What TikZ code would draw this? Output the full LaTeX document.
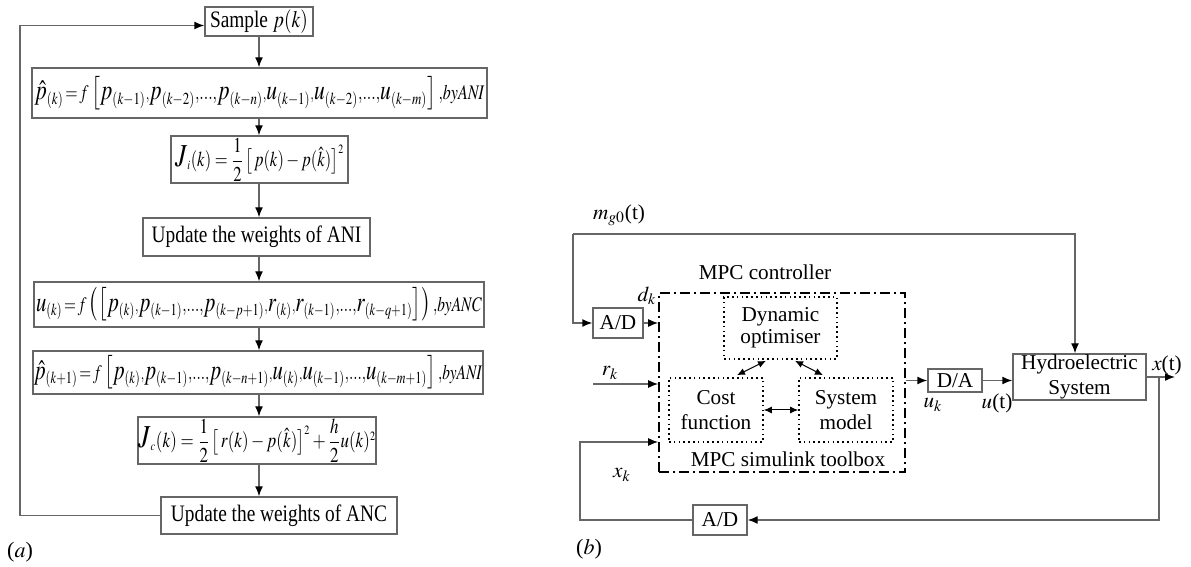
\documentclass[tikz,border=0pt]{standalone}
\usepackage{mathptmx}
\usepackage{amsmath}
\usepackage{fontspec}
\setmainfont{Liberation Serif}
\usepackage{graphicx}
\usetikzlibrary{arrows.meta,calc}
\newcommand\sqz[1]{\scalebox{0.82}[1]{#1}}
\newcommand\sqzf[2]{\scalebox{#1}[1]{#2}}
\newcommand\sss{\scriptscriptstyle}
\newcommand\bigJ{\mbox{\fontsize{16}{16}\selectfont$J$}}
\colorlet{lc}{black!60}
\colorlet{bc}{black!60}
\begin{document}
\begin{tikzpicture}[x=0.5pt,y=-0.5pt,
  abox/.style={draw=bc,line width=0.7pt,inner sep=0pt,anchor=center,align=center},
  arr/.style={draw=lc,line width=0.7pt,-{Latex[length=5pt,width=4pt,black]}},
  darr/.style={draw=black,line width=0.5pt,{Latex[length=4pt,width=3.5pt]}-{Latex[length=4pt,width=3.5pt]}},
  dotbox/.style={draw=black,line width=0.8pt,dash pattern=on 0.8pt off 1.6pt,inner sep=0pt,align=center},
  mpcbox/.style={draw=black,line width=0.8pt,dash pattern=on 5pt off 2pt on 1pt off 2pt,inner sep=0pt},
  lab/.style={inner sep=0pt},
  afont/.style={font=\fontsize{11.8}{14}\selectfont},
  bfont/.style={font=\fontsize{10.6}{12.5}\selectfont}
]
\useasboundingbox (0,0) rectangle (1191,567);
% ---------------- (a) ----------------
\coordinate (col) at (259,0);
\coordinate (lx) at (20,0);
\node[abox,afont,minimum width=54pt,minimum height=14.5pt] (samp) at (259,21.5) {\sqz{Sample $p(k)$}};
\node[abox,minimum width=227.5pt,minimum height=25pt] (f1) at (259.5,93)
 {\sqzf{0.77}{\fontsize{14}{16}\selectfont$\hat{p}_{\sss(k)}{\scriptstyle\,=\,f}\left[\vrule height 12pt depth 5pt width 0pt p_{\sss(k-1)}{\sss,}p_{\sss(k-2)}{\scriptstyle,\ldots,}p_{\sss(k-n)}{\sss,}u_{\sss(k-1)}{\sss,}u_{\sss(k-2)}{\scriptstyle,\ldots,}u_{\sss(k-m)}\right]{\scriptstyle,\mathit{byANI}}$}};
\node[abox,minimum width=88.5pt,minimum height=23.5pt] (ji) at (259.5,159.5)
 {\sqzf{0.78}{\fontsize{10.6}{12}\selectfont$\bigJ_{\sss i}(k)=\dfrac{1}{2}\left[\vrule height 9pt depth 3pt width 0pt\,p(k)-p(\hat{k})\right]^{\sss 2}$}};
\node[abox,afont,minimum width=113.5pt,minimum height=19pt] (uani) at (256.5,237) {\sqz{Update the weights of ANI}};
\node[abox,minimum width=225pt,minimum height=22.5pt] (fu) at (259,304.5)
 {\sqzf{0.74}{\fontsize{14}{16}\selectfont$u_{\sss(k)}{\scriptstyle\,=\,f}\left(\left[\vrule height 12pt depth 5pt width 0pt p_{\sss(k)}{\sss,}p_{\sss(k-1)}{\scriptstyle,\ldots,}p_{\sss(k-p+1)}{\sss,}r_{\sss(k)}{\sss,}r_{\sss(k-1)}{\scriptstyle,\ldots,}r_{\sss(k-q+1)}\right]\right){\scriptstyle,\mathit{byANC}}$}};
\node[abox,minimum width=225pt,minimum height=21.5pt] (f2) at (258,372.5)
 {\sqzf{0.74}{\fontsize{14}{16}\selectfont$\hat{p}_{\sss(k+1)}{\scriptstyle\,=\,f}\left[\vrule height 12pt depth 5pt width 0pt p_{\sss(k)}{\sss,}p_{\sss(k-1)}{\scriptstyle,\ldots,}p_{\sss(k-n+1)}{\sss,}u_{\sss(k)}{\sss,}u_{\sss(k-1)}{\scriptstyle,\ldots,}u_{\sss(k-m+1)}\right]{\scriptstyle,\mathit{byANI}}$}};
\node[abox,minimum width=119pt,minimum height=23.5pt] (jc) at (257,440.5)
 {\sqzf{0.8}{\fontsize{10.6}{12}\selectfont$\bigJ_{\sss c}(k)=\dfrac{1}{2}\left[\vrule height 9pt depth 3pt width 0pt\,r(k)-p(\hat{k})\right]^{\sss 2}+\dfrac{h}{2}u(k)^{\sss 2}$}};
\node[abox,afont,minimum width=118pt,minimum height=18.5pt] (uanc) at (279,515.5) {\sqz{Update the weights of ANC}};
\node[lab,font=\fontsize{11}{13}\selectfont] (la) at (20,552) {($a$)};
\draw[arr] (samp.south -| col) -- (f1.north -| col);
\draw[arr] (f1.south -| col) -- (ji.north -| col);
\draw[arr] (ji.south -| col) -- (uani.north -| col);
\draw[arr] (uani.south -| col) -- (fu.north -| col);
\draw[arr] (fu.south -| col) -- (f2.north -| col);
\draw[arr] (f2.south -| col) -- (jc.north -| col);
\draw[arr] (jc.south -| col) -- (uanc.north -| col);
\coordinate (sin) at ($(samp.west)+(0,4)$);
\draw[arr] (uanc.west) -- (uanc.west -| lx) |- (sin);
% ---------------- (b) ----------------
\node[mpcbox,minimum width=123pt,minimum height=89.5pt] (mpc) at (782,382.5) {};
\node[lab,bfont] (mpcl) at (765,272) {MPC controller};
\node[lab,bfont] (tbl) at (788,459) {MPC simulink toolbox};
\node[dotbox,font=\fontsize{10.6}{11}\selectfont,minimum width=56.5pt,minimum height=31pt] (dyn) at (780.5,328) {Dynamic\\optimiser};
\node[dotbox,font=\fontsize{10.6}{12.5}\selectfont,minimum width=47pt,minimum height=32pt] (cost) at (716,410) {Cost\\function};
\node[dotbox,font=\fontsize{10.6}{12.5}\selectfont,minimum width=47pt,minimum height=32pt] (sysm) at (846,410) {System\\model};
\node[abox,bfont,minimum width=25pt,minimum height=15pt] (ad1) at (618,323) {A/D};
\node[abox,bfont,minimum width=27pt,minimum height=11.5pt] (da) at (955,380.5) {D/A};
\node[abox,bfont,minimum width=66.5pt,minimum height=23pt] (hydro) at (1079.5,377) {Hydroelectric\\System};
\node[abox,bfont,minimum width=27pt,minimum height=15pt] (ad2) at (720,520) {A/D};
\node[lab,bfont] (mg) at (619,215) {$m_{g0}$(t)};
\node[lab,bfont] (dk) at (647,296) {$d_k$};
\node[lab,bfont] (rk) at (610,373) {$r_k$};
\node[lab,bfont] (xk) at (622,475) {$x_k$};
\node[lab,bfont] (uk) at (933,405) {$u_k$};
\node[lab,bfont] (ut) at (997,403) {$u$(t)};
\node[lab,bfont] (xt) at (1167,365) {$x$(t)};
\node[lab,font=\fontsize{11}{13}\selectfont] (lb) at (589,549) {($b$)};
\coordinate (mgc) at (573,234);
\coordinate (mgt) at (1075,234);
\coordinate (rkin) at (593,384);
\coordinate (xkc) at (580,442);
\coordinate (xto) at (1175,377);
\coordinate (br) at (1159,377);
\draw[arr] (mgc) |- (ad1.west);
\draw[arr] (mgc) -- (mgt) -- (mgt |- hydro.north);
\draw[arr] (ad1.east) -- (ad1.east -| mpc.west);
\draw[arr] (rkin) -- (rkin -| mpc.west);
\draw[arr] (ad2.west) -| (xkc) -- (xkc -| mpc.west);
\draw[arr] (mpc.east |- da.west) -- (da.west);
\draw[arr] (da.east) -- (da.east -| hydro.west);
\draw[arr] (hydro.east) -- (xto);
\draw[arr] (br) |- (ad2.east);
\draw[darr] ($(dyn.south)+(-14.5,1)$) -- ($(cost.north)+(21,-2)$);
\draw[darr] ($(dyn.south)+(14.5,1)$) -- ($(sysm.north)+(-23,-2)$);
\draw[darr] (cost.east) -- (sysm.west);
\end{tikzpicture}
\end{document}
